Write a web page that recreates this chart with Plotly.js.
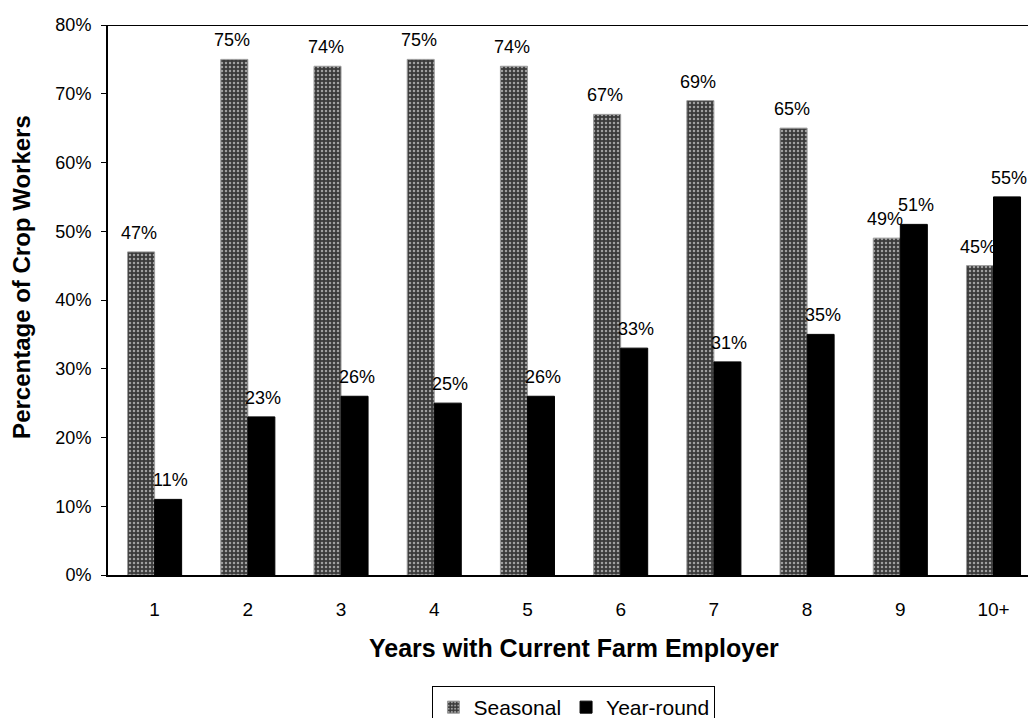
<!DOCTYPE html>
<html>
<head>
<meta charset="utf-8">
<script src="https://cdn.plot.ly/plotly-3.0.1.min.js"></script>
<style>html,body{margin:0;padding:0;background:#fff;}#chart{width:1028px;height:718px;}</style>
</head>
<body>
<div id="chart"></div>
<script>
const categories = ["1", "2", "3", "4", "5", "6", "7", "8", "9", "10+"];
const seasonal = [47, 75, 74, 75, 74, 67, 69, 65, 49, 45];
const yearRound = [11, 23, 26, 25, 26, 33, 31, 35, 51, 55];
const yTicks = [0, 10, 20, 30, 40, 50, 60, 70, 80];

const font = "Arial, 'Liberation Sans', sans-serif";
const labelFont = {family: font, size: 18, color: "#000"};

const traces = [
  {
    type: "bar", name: "Seasonal", x: categories, y: seasonal,
    marker: {
      color: "#4a4a4a",
      line: {color: "#9a9a9a", width: 1},
      pattern: {shape: ".", bgcolor: "#3a3a3a", fgcolor: "#a0a0a0", size: 4, solidity: 0.3}
    }
  },
  {
    type: "bar", name: "Year-round", x: categories, y: yearRound,
    marker: {color: "#000", line: {color: "#000", width: 1}}
  }
];

// data labels: placed on the category axis by index, shifted over each bar of the group
const half = 13.5;
const labelAnnotations = [];
categories.forEach((c, i) => {
  labelAnnotations.push({x: i, y: seasonal[i], xref: "x", yref: "y", text: seasonal[i] + "%",
    showarrow: false, xanchor: "center", yanchor: "bottom", xshift: -half - 2, yshift: 7, font: labelFont});
  labelAnnotations.push({x: i, y: yearRound[i], xref: "x", yref: "y", text: yearRound[i] + "%",
    showarrow: false, xanchor: "center", yanchor: "bottom", xshift: half + 2, yshift: 7, font: labelFont});
});

const layout = {
  width: 1028, height: 718,
  margin: {l: 108, r: 0, t: 25, b: 143, autoexpand: false},
  paper_bgcolor: "#fff", plot_bgcolor: "#fff",
  font: {family: font, color: "#000"},
  barmode: "group", bargap: 0.42, bargroupgap: 0,
  showlegend: true,
  legend: {
    orientation: "h", x: 0.5065, xanchor: "center", y: -0.2018, yanchor: "top",
    bordercolor: "#000", borderwidth: 1, font: {family: font, size: 21, color: "#000"},
    itemwidth: 30, tracegroupgap: 0
  },
  xaxis: {
    type: "category", range: [-0.5, 9.37],
    showline: true, linecolor: "#000", linewidth: 2,
    ticks: "", tickfont: {family: font, size: 19, color: "#000"},
    showgrid: false, zeroline: false, ticklabelstandoff: 16, automargin: false
  },
  yaxis: {
    range: [0, 80], tickvals: yTicks, ticktext: yTicks.map(v => v + "%"),
    showline: true, linecolor: "#000", linewidth: 2,
    ticks: "outside", ticklen: 5, tickcolor: "#000",
    tickfont: {family: font, size: 18, color: "#000"}, ticklabelstandoff: 6,
    showgrid: false, zeroline: false, automargin: false
  },
  annotations: labelAnnotations.concat([
    {text: "<b>Years with Current Farm Employer</b>", xref: "paper", yref: "paper",
     x: 0.5065, y: -0.132, xanchor: "center", yanchor: "middle", showarrow: false,
     font: {family: font, size: 25, color: "#000"}},
    {text: "<b>Percentage of Crop Workers</b>", xref: "paper", yref: "paper",
     x: -0.0935, y: 0.542, xanchor: "center", yanchor: "middle", showarrow: false, textangle: -90,
     font: {family: font, size: 24, color: "#000"}}
  ]),
  shapes: [
    {type: "line", xref: "paper", yref: "y", x0: -0.005, x1: 1.0, y0: 80, y1: 80, line: {color: "#000", width: 2}}
  ]
};

Plotly.newPlot("chart", traces, layout, {displayModeBar: false, staticPlot: true});
</script>
</body>
</html>
